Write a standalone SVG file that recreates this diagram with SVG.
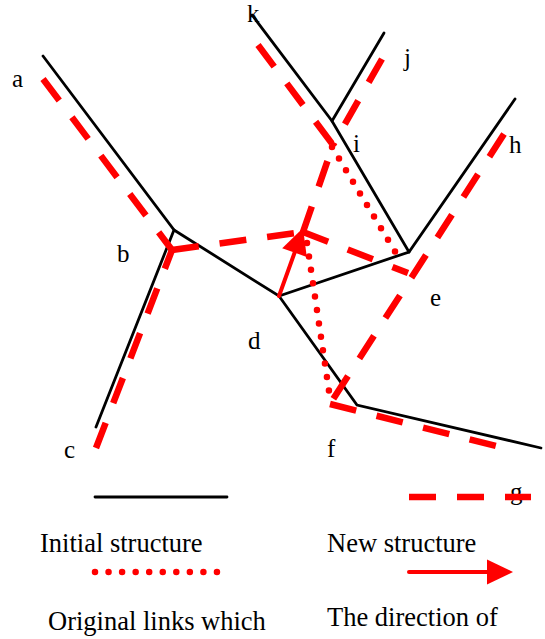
<svg xmlns="http://www.w3.org/2000/svg" width="545" height="639" viewBox="0 0 545 639">
<style>
.blk{stroke:#000;stroke-width:2.8;fill:none;stroke-linecap:round}
.new{stroke:#FF0000;stroke-width:6.5;fill:none;stroke-dasharray:27 21}
.dot{stroke:#FF0000;stroke-width:6.5;fill:none;stroke-linecap:round;stroke-dasharray:0 13.55}
.arr{stroke:#FF0000;stroke-width:4;fill:none;stroke-linecap:round}
.head{fill:#FF0000}
.lbl{font-family:"Liberation Serif","Times New Roman",serif;font-size:25px;fill:#000}
.leg{font-family:"Liberation Serif","Times New Roman",serif;font-size:26.5px;fill:#000}
</style>
<rect width="545" height="639" fill="#fff"/>
<g id="nodes">
<g id="node-a"><text class="lbl" x="12" y="87">a</text></g>
<g id="node-b"><text class="lbl" x="117" y="262">b</text></g>
<g id="node-c"><text class="lbl" x="64" y="458">c</text></g>
<g id="node-d"><text class="lbl" x="248" y="349">d</text></g>
<g id="node-e"><text class="lbl" x="430" y="306">e</text></g>
<g id="node-f"><text class="lbl" x="327" y="457">f</text></g>
<g id="node-g"><text class="lbl" x="510" y="500">g</text></g>
<g id="node-h"><text class="lbl" x="509" y="153">h</text></g>
<g id="node-i"><text class="lbl" x="353" y="152">i</text></g>
<g id="node-j"><text class="lbl" x="404" y="66">j</text></g>
<g id="node-k"><text class="lbl" x="247" y="22">k</text></g>
</g>
<g id="connectors">
<g id="initial">
<polyline class="blk" points="43,56 174,230 96,427"/>
<polyline class="blk" points="174,230 279,296 409,252 515,99"/>
<polyline class="blk" points="409,252 332,121 252,15"/>
<line class="blk" x1="332" y1="121" x2="384" y2="33"/>
<polyline class="blk" points="279,296 357,405 541,448"/>
</g>
<g id="new">
<line class="new" x1="43" y1="79" x2="172" y2="250"/>
<line class="new" x1="96" y1="448" x2="172" y2="250"/>
<line class="new" x1="172" y1="250" x2="303" y2="232"/>
<line class="new" x1="303" y1="232" x2="333" y2="145"/>
<line class="new" x1="258" y1="45" x2="333" y2="145"/>
<line class="new" x1="382" y1="59" x2="333" y2="145"/>
<line class="new" x1="303" y1="232" x2="408" y2="273"/>
<line class="new" x1="504" y1="134" x2="330" y2="404"/>
<polyline class="new" points="330,404 330,404 496,446" stroke-dasharray="27 21"/>
</g>
<g id="original">
<line class="dot" x1="332" y1="147" x2="402" y2="263"/>
<line class="dot" x1="307" y1="243" x2="329" y2="391"/>
</g>
<g id="direction">
<line class="arr" x1="279" y1="296" x2="297" y2="246"/>
<polygon class="head" points="303,228 306.8,256.9 282.2,248.3"/>
</g>
</g>
<g id="legend">
<line class="blk" x1="95" y1="497" x2="227" y2="497" stroke-width="3.2"/>
<text class="leg" x="40" y="552">Initial structure</text>
<line class="dot" x1="95" y1="572" x2="218" y2="572"/>
<text class="leg" x="48" y="630">Original links which</text>
<line class="new" x1="409" y1="497" x2="531" y2="497"/>
<text class="leg" x="327" y="552">New structure</text>
<line class="arr" x1="409" y1="572" x2="490" y2="572"/>
<polygon class="head" points="513,572 487,559.5 487,584.5"/>
<text class="leg" x="327" y="626">The direction of</text>
</g>
</svg>
